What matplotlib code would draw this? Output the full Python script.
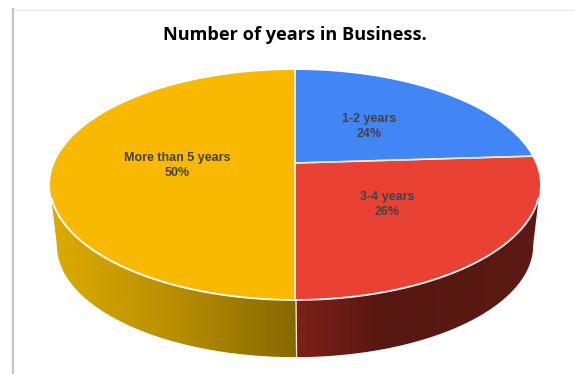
import matplotlib
matplotlib.use('Agg')
import matplotlib.pyplot as plt
from matplotlib.colors import LinearSegmentedColormap
from matplotlib.path import Path
from matplotlib.patches import PathPatch
import numpy as np

title = 'Number of years in Business.'
categories = ['1-2 years', '3-4 years', 'More than 5 years']
shares = [24, 26, 50]
colors = ['#4285f4', '#e94235', '#f9b900']
label_xy = [(369, 126.5), (387, 204.5), (177, 165.5)]

# pie geometry in pixels, the disc is seen in perspective
cx, cy = 295, 163
semi_x, semi_y, tilt = 240.5, 110.8, 0.191
depth_scale = 0.972
depth_shift = 61


def project(theta, scale=1.0, shift=0.0):
    # theta runs clockwise from the top of the disc
    u, v = np.sin(theta), np.cos(theta)
    w = 1 + tilt * v
    return cx + scale * semi_x * u / w, cy + shift - scale * semi_y * v / w


def closed_path(x, y):
    verts = np.column_stack([x, y])
    return Path(np.vstack([verts, verts[0]]), closed=True)


fig = plt.figure(figsize=(5.75, 3.74), dpi=100)
ax = fig.add_axes([0, 0, 1, 1])

# shaded wall below the disc, darkening towards the front
wall = LinearSegmentedColormap.from_list('wall', [
    (0.0, '#dcab02'), (0.245, '#b98f00'), (0.5, '#886800'),
    (0.503, '#7f2019'), (0.68, '#561810'), (1.0, '#5b1b14')])
theta = np.linspace(0, 2 * np.pi, 721)[:-1]
low_x, low_y = project(theta, depth_scale, depth_shift)
low_path = closed_path(low_x, low_y)
side_x = [51.5, 538.5, low_x.max(), low_x.min()]
side_y = [200, 200, 245, 245]
ramp = np.linspace(0, 1, 980).reshape(1, -1)

for clip in [low_path, closed_path(side_x, side_y)]:
    im = ax.imshow(ramp, cmap=wall, vmin=0, vmax=1, aspect='auto',
                   extent=(50, 540, 374, 0), interpolation='bilinear')
    im.set_clip_path(PathPatch(clip, transform=ax.transData))

# seam between the two visible wall sections
ax.plot([296, 296.5], [300, 357], color='#f4eee0', lw=1.0, solid_capstyle='butt')

# slices on top of the disc
edges = np.cumsum([0] + shares) / sum(shares) * 2 * np.pi
for start, stop, color in zip(edges[:-1], edges[1:], colors):
    arc = np.linspace(start, stop, 300)
    x, y = project(arc)
    path = closed_path(np.r_[cx, x], np.r_[cy, y])
    ax.add_patch(PathPatch(path, facecolor=color, edgecolor='none', zorder=3))
    ax.plot(np.r_[x[0], cx, x[-1]], np.r_[y[0], cy, y[-1]], color='#f1ecec',
            lw=1.1, zorder=4, solid_joinstyle='miter')

# bright rim along the front of the disc
front = np.radians(np.linspace(108, 252, 300))
ax.plot(*project(front), color='white', lw=1.3, zorder=4)

for name, share, (lx, ly) in zip(categories, shares, label_xy):
    ax.text(lx, ly, f'{name}\n{share}%', ha='center', va='center', fontsize=9.0,
            family='Liberation Sans', fontweight='bold', color='#424242',
            linespacing=1.25, zorder=5)

ax.text(295, 34.5, title, ha='center', va='center', fontsize=13.1,
        family='Open Sans', fontweight='bold', color='black')

# frame lines on the top and left
ax.plot([13, 575], [9.5, 9.5], color='#e6e6e6', lw=1.0)
ax.plot([13, 13], [9, 374], color='#c4c4c4', lw=1.6)

ax.set_xlim(0, 575)
ax.set_ylim(374, 0)
ax.axis('off')
fig.savefig('out.png', dpi=100)
